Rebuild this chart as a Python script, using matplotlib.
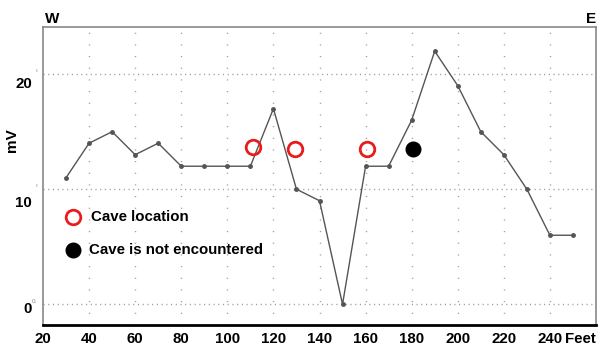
import matplotlib
matplotlib.use("Agg")
import matplotlib.pyplot as plt
from matplotlib.transforms import ScaledTranslation

# Self-potential profile (mV) along the survey line, in feet
distance_ft = [30, 40, 50, 60, 70, 80, 90, 100, 110, 120, 130, 140, 150,
               160, 170, 180, 190, 200, 210, 220, 230, 240, 250]
potential_mv = [11, 14, 15, 13, 14, 12, 12, 12, 12, 17, 10, 9, 0,
                12, 12, 16, 22, 19, 15, 13, 10, 6, 6]

# Cave markers
cave_x = [111, 129.5, 160.5]
cave_y = [13.7, 13.5, 13.5]
no_cave_x = [180.5]
no_cave_y = [13.5]

x_ticks = [20, 40, 60, 80, 100, 120, 140, 160, 180, 200, 220, 240]
x_grid = [40, 60, 80, 100, 120, 140, 160, 180, 200, 220, 240]
y_ticks = [0, 10, 20]

plt.rcParams['font.family'] = ['Liberation Sans', 'DejaVu Sans']
plt.rcParams['lines.scale_dashes'] = False

fig = plt.figure(figsize=(6.02, 3.45), dpi=100)
ax = fig.add_axes([43 / 602, 1 - 325 / 345, (596 - 43) / 602, (325 - 27) / 345])

ax.set_xlim(20, 260)
ax.set_ylim(-1.8, 24.1)

# dotted grid
for gx in x_grid:
    ax.axvline(gx, color='#9a9a9a', lw=1.0, ls=(0, (0.8, 7.6)), zorder=0)
for gy in y_ticks:
    ax.axhline(gy, color='#9a9a9a', lw=1.0, ls=(0, (0.8, 2.6)), zorder=0)

ax.plot(distance_ft, potential_mv, color='#555555', lw=1.0, marker='o',
        markersize=2.5, markerfacecolor='#555555', markeredgecolor='#555555', zorder=3)

ax.plot(cave_x, cave_y, ls='none', marker='o', markersize=10.5,
        markerfacecolor='none', markeredgecolor='#e81c1c', markeredgewidth=2.0, zorder=4)
ax.plot(no_cave_x, no_cave_y, ls='none', marker='o', markersize=10.5,
        markerfacecolor='black', markeredgecolor='black', zorder=4)

# legend drawn inside the plot area
ax.plot([33], [7.55], ls='none', marker='o', markersize=10.5, markerfacecolor='none',
        markeredgecolor='#e81c1c', markeredgewidth=2.0, clip_on=False)
ax.plot([33], [4.7], ls='none', marker='o', markersize=10.5, markerfacecolor='black',
        markeredgecolor='black', clip_on=False)
ax.text(40.9, 7.55, 'Cave location', fontsize=10.8, fontweight='bold', va='center', ha='left')
ax.text(40, 4.7, 'Cave is not encountered', fontsize=10.8, fontweight='bold',
        va='center', ha='left')

ax.set_xticks(x_ticks)
ax.set_xticklabels([str(v) for v in x_ticks])
ax.set_yticks(y_ticks)
ax.set_yticklabels([str(v) for v in y_ticks])
ax.tick_params(axis='both', length=0, labelsize=10.8)
ax.tick_params(axis='x', pad=5)
ax.tick_params(axis='y', pad=8)
for lab in ax.get_xticklabels():
    lab.set_fontweight('bold')
# y labels sit a little below their gridlines
label_drop_px = [3, 12, 8]
for lab, drop in zip(ax.get_yticklabels(), label_drop_px):
    lab.set_fontweight('bold')
    lab.set_transform(lab.get_transform()
                      + ScaledTranslation(0, -drop / 100, fig.dpi_scale_trans))

# unit label after the last tick
ax.annotate('Feet', xy=(0.972, 0), xycoords='axes fraction', xytext=(0, -5),
            textcoords='offset points', fontsize=10.8, fontweight='bold',
            ha='center', va='top')

ax.set_ylabel('mV', fontsize=11, fontweight='bold')
ax.yaxis.set_label_coords(-0.043, 0.62)

# small marks next to the y-axis
for yv, s in [(20.3, 'ı'), (10.3, 'ı'), (0.2, '0.')]:
    ax.text(-0.01, yv, s, transform=ax.get_yaxis_transform(), fontsize=4.5,
            color='#888888', ha='right', va='center')

fig.text(52 / 602, 1 - 19 / 345, 'W', fontsize=11, fontweight='bold', ha='center', va='center')
fig.text(591 / 602, 1 - 19 / 345, 'E', fontsize=11, fontweight='bold', ha='center', va='center')

for side in ['top', 'right', 'left']:
    ax.spines[side].set_color('#888888')
    ax.spines[side].set_linewidth(1.2)
ax.spines['bottom'].set_color('black')
ax.spines['bottom'].set_linewidth(2.0)

fig.savefig('out.png', dpi=100)
